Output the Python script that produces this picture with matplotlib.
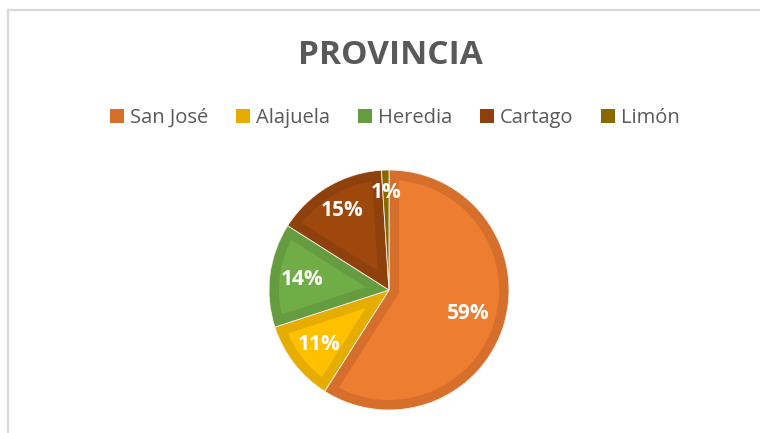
import matplotlib
matplotlib.use("Agg")
import matplotlib.pyplot as plt
import numpy as np
from matplotlib.patches import Patch, Polygon
from matplotlib.lines import Line2D

categories = ["San José", "Alajuela", "Heredia", "Cartago", "Limón"]
values = [59, 11, 14, 15, 1]
labels = ["59%", "11%", "14%", "15%", "1%"]

fill_colors = ["#ED7D31", "#FFC000", "#70AD47", "#9E480E", "#997300"]
edge_colors = ["#D66F2C", "#E6AD00", "#659C40", "#8E410D", "#8A6800"]
label_dist = [0.69, 0.74, 0.73, 0.77, 0.81]

plt.rcParams['font.family'] = ['Open Sans', 'DejaVu Sans']

W, H = 760, 433
fig = plt.figure(figsize=(W / 100, H / 100), dpi=100)
fig.patch.set_facecolor("white")

# frame
fig.add_artist(Line2D([8 / W, 8 / W], [0, 1 - 10 / H], color="#d9d9d9", lw=1.6))
fig.add_artist(Line2D([8 / W, 1], [1 - 10 / H, 1 - 10 / H], color="#d9d9d9", lw=1.6))

cx, cy, r = 389, 433 - 290, 120
ax = fig.add_axes([(cx - r) / W, (cy - r) / H, 2 * r / W, 2 * r / H])
wedges, _ = ax.pie(values, colors=edge_colors, startangle=90, counterclock=False,
                   radius=1, wedgeprops=dict(linewidth=0.6, edgecolor="#f4f0ea"))

# inner lighter fill (inset by border width)
d = 10 / r
for w, fc in zip(wedges, fill_colors):
    t1, t2 = np.deg2rad(w.theta1), np.deg2rad(w.theta2)
    theta = t2 - t1
    if theta * (1 - d) < 2 * d:
        continue
    bis = (t1 + t2) / 2
    apex_r = d / np.sin(theta / 2)
    apex = (apex_r * np.cos(bis), apex_r * np.sin(bis))
    ri = 1 - d
    da1 = np.arcsin(d / ri)
    arc = np.linspace(t1 + da1, t2 - da1, 120)
    pts = [apex] + [(ri * np.cos(a), ri * np.sin(a)) for a in arc]
    ax.add_patch(Polygon(pts, closed=True, facecolor=fc, edgecolor="none"))

cum = np.cumsum([0] + values)
total = sum(values)
for i, lab in enumerate(labels):
    mid = 90 - 360 * (cum[i] + values[i] / 2) / total
    a = np.deg2rad(mid)
    ax.text(label_dist[i] * np.cos(a), label_dist[i] * np.sin(a), lab,
            ha="center", va="center", color="white", fontsize=15, fontweight="bold")
ax.set_xlim(-1, 1)
ax.set_ylim(-1, 1)
ax.set_aspect("equal")
ax.axis("off")

fig.text(390 / W, 1 - 55 / H, "PROVINCIA", ha="center", va="center",
         fontsize=24, fontweight="bold", color="#595959")

handles = [Patch(facecolor=c, edgecolor="none") for c in edge_colors]
leg = fig.legend(handles, categories, loc="center", bbox_to_anchor=(395 / W, 1 - 118 / H),
                 ncol=5, frameon=False, fontsize=14.5, handlelength=0.72, handleheight=0.72,
                 handletextpad=0.3, columnspacing=1.35, labelcolor="#595959")

fig.savefig("out.png", dpi=100, facecolor="white")
